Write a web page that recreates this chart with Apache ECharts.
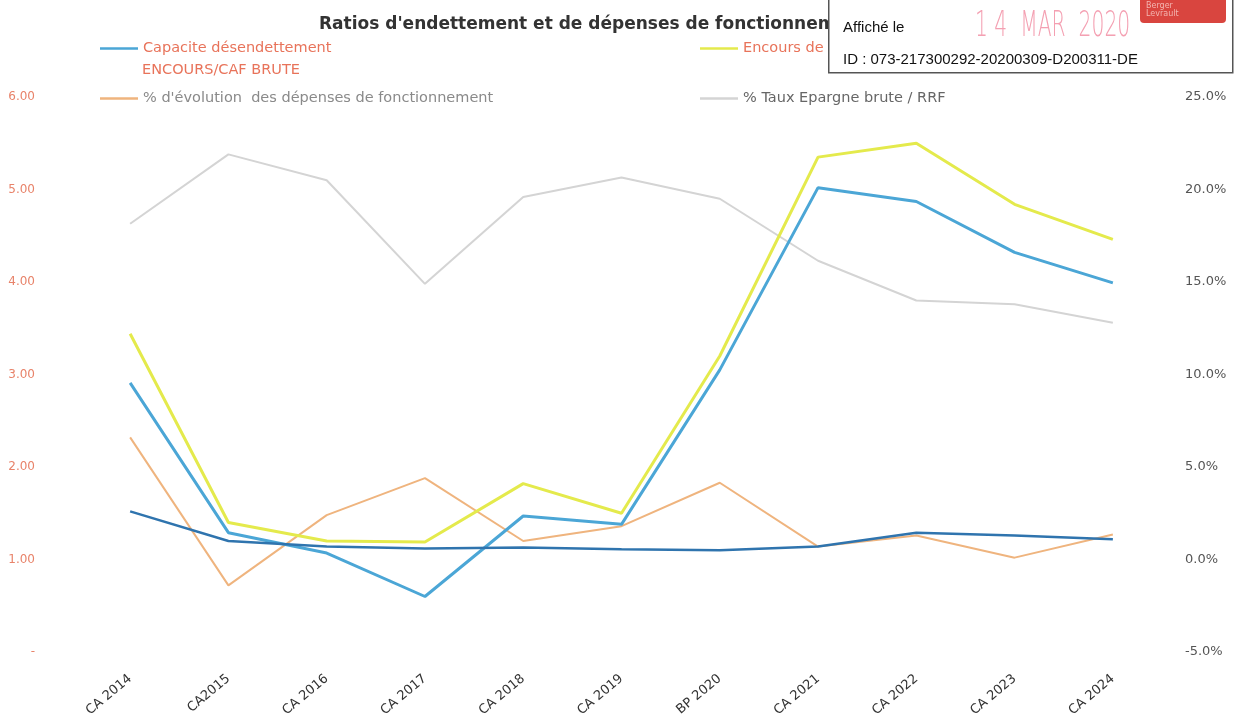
<!DOCTYPE html>
<html>
<head>
<meta charset="UTF-8"/>
<script src="https://cdn.jsdelivr.net/npm/echarts@6/dist/echarts.min.js"></script>
<style>
  html, body { margin: 0; background: #fff; }
  #c { width: 1245px; height: 725px; }
</style>
</head>
<body>
<div id="c"></div>
<script>
// catégories (exercices)
const years = ["CA 2014", "CA2015", "CA 2016", "CA 2017", "CA 2018", "CA 2019", "BP 2020", "CA 2021", "CA 2022", "CA 2023", "CA 2024"];

// axe gauche (années)
const capacite = [2.91, 1.29, 1.07, 0.60, 1.47, 1.38, 3.05, 5.02, 4.87, 4.32, 3.99];
const encours = [3.44, 1.40, 1.20, 1.19, 1.82, 1.50, 3.20, 5.35, 5.50, 4.84, 4.46];
const autreRatio = [1.52, 1.20, 1.14, 1.12, 1.13, 1.11, 1.10, 1.14, 1.29, 1.26, 1.22];

// axe droit (%)
const evolDepenses = [6.6, -1.4, 2.4, 4.4, 1.0, 1.8, 4.15, 0.7, 1.3, 0.1, 1.35];
const tauxEpargne = [18.15, 21.9, 20.5, 14.9, 19.6, 20.65, 19.5, 16.15, 14.0, 13.8, 12.8];

const leftTicks = { min: 0, max: 6, interval: 1 };
const rightTicks = { min: -5, max: 25, interval: 5 };

const capaciteName = "Capacite désendettement\nENCOURS/CAF BRUTE";
const FONT = "'DejaVu Sans', sans-serif";
const LEG_SIZE = 14.5;

const chart = echarts.init(document.getElementById("c"), null, { renderer: "canvas" });

// une légende par entrée, placées comme sur le document scanné
function legendAt(name, left, top, color) {
  return {
    data: [name], left, top, padding: 0, icon: "rect", itemWidth: 38, itemHeight: 2.5,
    formatter: n => n.split("\n")[0],
    textStyle: { color, fontSize: LEG_SIZE, fontFamily: FONT }
  };
}

const Z = 100;
chart.setOption({
  backgroundColor: "#fff",
  animation: false,
  title: {
    text: "Ratios d'endettement et de dépenses de fonctionnement",
    left: 314, top: 11,
    textStyle: { fontSize: 17, fontWeight: "bold", color: "#333", fontFamily: FONT }
  },
  legend: [
    legendAt(capaciteName, 100, 41, "#e8735a"),
    legendAt("Encours de dette", 700, 41, "#e8735a"),
    legendAt("% d'évolution  des dépenses de fonctionnement", 100, 91, "#8a8a8a"),
    legendAt("% Taux Epargne brute / RRF", 700, 91, "#666")
  ],
  grid: { left: 81, right: 83, top: 97, bottom: 73 },
  xAxis: {
    type: "category",
    data: years,
    boundaryGap: true,
    axisLine: { show: false },
    axisTick: { show: false },
    axisLabel: { rotate: 40, margin: 25, color: "#333", fontSize: 13, fontFamily: FONT }
  },
  yAxis: [
    {
      type: "value", ...leftTicks,
      splitLine: { show: false },
      axisLine: { show: false }, axisTick: { show: false },
      axisLabel: {
        margin: 46, color: "#e8836a", fontSize: 12, fontFamily: FONT,
        formatter: v => v === 0 ? "-" : v.toFixed(2)
      }
    },
    {
      type: "value", ...rightTicks,
      splitLine: { show: false },
      axisLine: { show: false }, axisTick: { show: false },
      axisLabel: {
        margin: 23, color: "#555", fontSize: 13, fontFamily: FONT,
        formatter: v => v.toFixed(1) + "%"
      }
    }
  ],
  series: [
    {
      name: "% Taux Epargne brute / RRF", type: "line", yAxisIndex: 1, data: tauxEpargne,
      symbol: "none", lineStyle: { width: 2, color: "#d4d4d4" }, itemStyle: { color: "#d4d4d4" }
    },
    {
      name: "% d'évolution  des dépenses de fonctionnement", type: "line", yAxisIndex: 1, data: evolDepenses,
      symbol: "none", lineStyle: { width: 2, color: "#efb47e" }, itemStyle: { color: "#efb47e" }
    },
    {
      name: "Encours de dette", type: "line", data: encours,
      symbol: "none", lineStyle: { width: 3, color: "#e4ea4c" }, itemStyle: { color: "#e4ea4c" }
    },
    {
      name: capaciteName, type: "line", data: capacite,
      symbol: "none", lineStyle: { width: 3, color: "#4ba6d6" }, itemStyle: { color: "#4ba6d6" }
    },
    {
      name: "Autre ratio", type: "line", data: autreRatio,
      symbol: "none", lineStyle: { width: 2.5, color: "#2f74ae" }, itemStyle: { color: "#2f74ae" }
    }
  ],
  graphic: [
    // deuxième ligne du libellé de légende
    {
      type: "text", left: 142, top: 63, z: 10,
      style: { text: capaciteName.split("\n")[1], fill: "#e8735a", font: LEG_SIZE + "px " + FONT }
    },
    // tampon d'affichage collé sur le document
    { type: "rect", left: 828, top: -4, z: Z, shape: { width: 404, height: 76 },
      style: { fill: "#fff", stroke: "#555", lineWidth: 1.5 } },
    { type: "rect", left: 1140, top: -4, z: Z + 1, shape: { width: 86, height: 27, r: 4 },
      style: { fill: "#d9453f" } },
    { type: "text", left: 1146, top: 2, z: Z + 2,
      style: { text: "Berger\nLevrault", fill: "#f3b5b0", font: "8px " + FONT, lineHeight: 8 } },
    { type: "text", left: 843, top: 20, z: Z + 2,
      style: { text: "Affiché le", fill: "#111", font: "15px 'Liberation Sans', Arial, sans-serif" } },
    { type: "text", x: 975, y: 9, z: Z + 2, scaleX: 0.58,
      style: { text: "1 4  MAR  2020", fill: "#f4a0b2", font: "200 35px 'DejaVu Sans', sans-serif" } },
    { type: "text", left: 843, top: 52, z: Z + 2,
      style: { text: "ID : 073-217300292-20200309-D200311-DE", fill: "#111", font: "15px 'Liberation Sans', Arial, sans-serif" } }
  ]
});
</script>
</body>
</html>
